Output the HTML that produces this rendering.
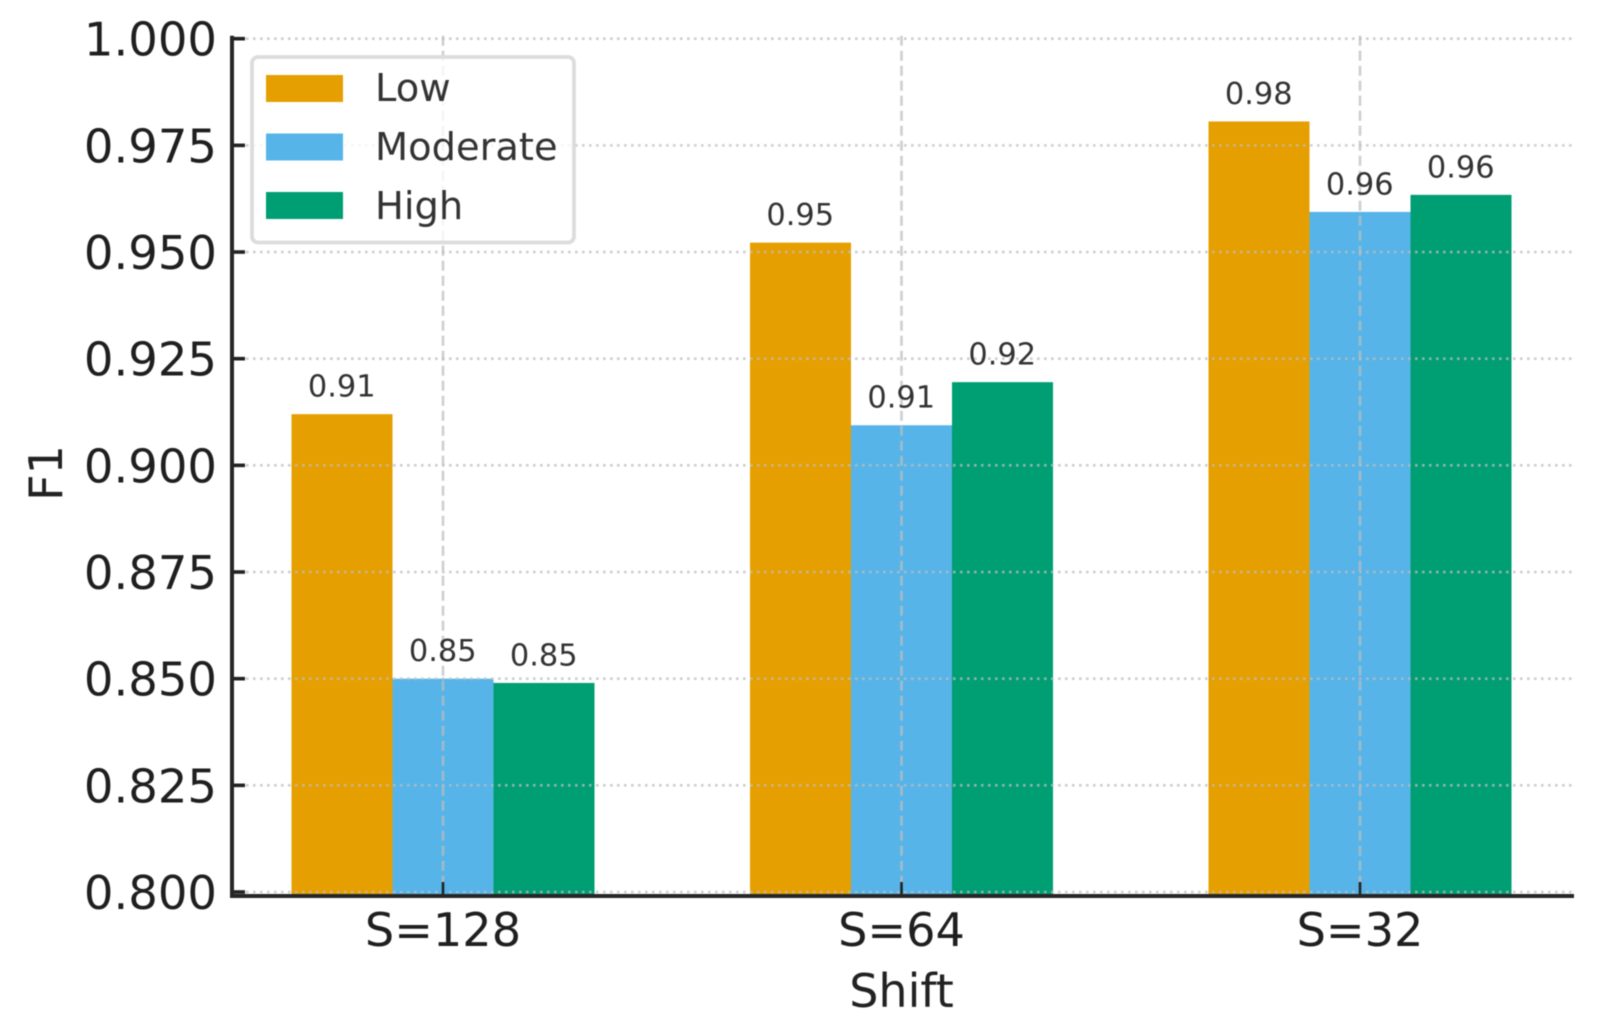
<!DOCTYPE html>
<html>
<head>
<meta charset="utf-8">
<title>F1 by Shift</title>
<style>
html,body{margin:0;padding:0;background:#fff;width:1598px;height:1029px;overflow:hidden}
svg{display:block;filter:blur(0.5px)}
text{font-family:"DejaVu Sans","Liberation Sans",sans-serif}
</style>
</head>
<body>
<svg id="chart" xmlns="http://www.w3.org/2000/svg" width="1598" height="1029" viewBox="0 0 1598 1029">
<rect x="0" y="0" width="1598" height="1029" fill="#fff"/>
<g id="bars"></g>
<g id="grid"></g>
<g id="labels"></g>
<g id="axes"></g>
<text x="0" y="0" transform="translate(62,473) rotate(-90)" text-anchor="middle" font-size="46" fill="#222">F1</text>
<text x="901.5" y="1007" text-anchor="middle" font-size="46" fill="#222">Shift</text>
<g id="legend">
<rect x="252" y="57" width="322" height="185.5" rx="6" fill="#fff" fill-opacity="0.8" stroke="#dcdcdc" stroke-width="3.8"/>
<rect x="266" y="75" width="77" height="27" fill="#E69F00"/>
<text x="375" y="101" font-size="38.4" fill="#333">Low</text>
<rect x="266" y="133.5" width="77" height="27" fill="#56B4E9"/>
<text x="375" y="160" font-size="38.4" fill="#333">Moderate</text>
<rect x="266" y="192" width="77" height="27" fill="#009E73"/>
<text x="375" y="219" font-size="38.4" fill="#333">High</text>
</g>
</svg>
<script>
const categories = ["S=128", "S=64", "S=32"];
const lowValues = [0.9120, 0.9522, 0.9806];
const moderateValues = [0.8500, 0.9094, 0.9594];
const highValues = [0.8490, 0.9195, 0.9634];
const yTickValues = [0.800, 0.825, 0.850, 0.875, 0.900, 0.925, 0.950, 0.975, 1.000];

const NS = "http://www.w3.org/2000/svg";
const plot = {left: 232, right: 1572, bottom: 892, top: 38.7, spineY: 896};
const firstCenter = 443, categoryStep = 458.5, barWidth = 101;
const yMin = 0.8, yMax = 1.0;

function xScale(i) { return firstCenter + i * categoryStep; }
function yScale(v) { return plot.bottom - (v - yMin) / (yMax - yMin) * (plot.bottom - plot.top); }
function make(tag, attrs, parent) {
  const el = document.createElementNS(NS, tag);
  for (const k in attrs) el.setAttribute(k, attrs[k]);
  parent.appendChild(el);
  return el;
}

const barsG = document.getElementById("bars");
const gridG = document.getElementById("grid");
const labelsG = document.getElementById("labels");
const axesG = document.getElementById("axes");

const seriesList = [
  {key: "low", values: lowValues, color: "#E69F00", offset: -1},
  {key: "moderate", values: moderateValues, color: "#56B4E9", offset: 0},
  {key: "high", values: highValues, color: "#009E73", offset: 1}
];

seriesList.forEach(function (s) {
  s.values.forEach(function (v, i) {
    const cx = xScale(i) + s.offset * barWidth;
    const top = yScale(v);
    const bar = make("rect", {x: cx - barWidth / 2, y: top, width: barWidth, height: plot.spineY - top, fill: s.color}, barsG);
    
    
    const label = make("text", {x: cx - 0.3, y: top - 17.5, "text-anchor": "middle", "font-size": 30.4, fill: "#333"}, labelsG);
    
    
    label.textContent = v.toFixed(2);
  });
});

yTickValues.forEach(function (v) {
  const y = yScale(v);
  const line = make("line", {x1: plot.left, x2: plot.right, y1: y, y2: y, stroke: "#bdbdbd", "stroke-opacity": 0.75, "stroke-width": 2.6, "stroke-dasharray": "2.6 4.4"}, gridG);
  
  
  const tick = make("line", {x1: plot.left, x2: plot.left + 13, y1: y, y2: y, stroke: "#222", "stroke-width": 3.6}, axesG);
  
  
  const tickLabel = make("text", {x: 217, y: y + 17, "text-anchor": "end", "font-size": 46.5, fill: "#1f1f1f"}, axesG);
  
  
  tickLabel.textContent = v.toFixed(3);
});

categories.forEach(function (c, i) {
  const x = xScale(i);
  const line = make("line", {x1: x, x2: x, y1: plot.top - 3, y2: plot.spineY, stroke: "#bdbdbd", "stroke-opacity": 0.75, "stroke-width": 2.6, "stroke-dasharray": "10 5"}, gridG);
  
  
  const tick = make("line", {x1: x, x2: x, y1: plot.spineY - 14, y2: plot.spineY, stroke: "#222", "stroke-width": 2.6}, axesG);
  
  
  const tickLabel = make("text", {x: x, y: 946, "text-anchor": "middle", "font-size": 46.2, fill: "#1f1f1f"}, axesG);
  
  
  tickLabel.textContent = c;
});

const leftSpine = make("line", {x1: plot.left, x2: plot.left, y1: plot.top - 3, y2: plot.spineY + 1.9, stroke: "#262626", "stroke-width": 4}, axesG);


const bottomSpine = make("line", {x1: plot.left - 2, x2: plot.right + 2, y1: plot.spineY, y2: plot.spineY, stroke: "#262626", "stroke-width": 4}, axesG);


</script>
</body>
</html>
